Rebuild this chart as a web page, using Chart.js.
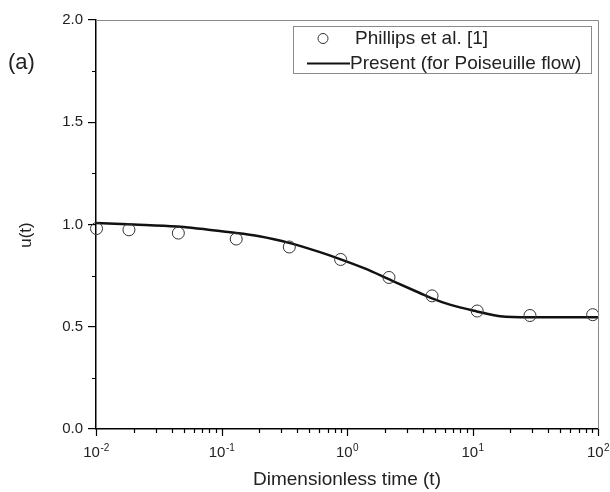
<!DOCTYPE html>
<html>
<head>
<meta charset="utf-8">
<script src="https://cdn.jsdelivr.net/npm/chart.js@4.4.1/dist/chart.umd.min.js"></script>
<style>
  html, body { margin: 0; padding: 0; background: #fff; }
  #wrap { width: 610px; height: 492px; }
</style>
</head>
<body>
<div id="wrap"><canvas id="chart-1"></canvas></div>
<script>
const FONT = '"Liberation Sans", Arial, sans-serif';

// Phillips et al. [1] (open circles)
const phillipsT = [0.0101, 0.0183, 0.0453, 0.131, 0.347, 0.89, 2.16, 4.76, 10.9, 28.7, 90.7];
const phillipsU = [0.980, 0.974, 0.958, 0.929, 0.890, 0.829, 0.741, 0.651, 0.577, 0.555, 0.559];

// Present (for Poiseuille flow) (solid line)
const presentT = [0.01, 0.02, 0.044, 0.117, 0.2, 0.352, 0.6, 0.88, 1.4, 2.2, 3.8, 4.7, 6.6, 10.8, 16.6, 28.6, 50, 100];
const presentU = [1.007, 1.0, 0.990, 0.962, 0.943, 0.909, 0.866, 0.831, 0.784, 0.730, 0.665, 0.640, 0.608, 0.575, 0.551, 0.546, 0.546, 0.546];

// axis ticks
const xDecades = [0.01, 0.1, 1, 10, 100];
const xExponents = ["-2", "-1", "0", "1", "2"];
const yMajor = [0, 0.5, 1.0, 1.5, 2.0];
const yMinor = [0.25, 0.75, 1.25, 1.75];

const ctx_1 = document.getElementById("chart-1");

const decor = {
  id: "decor",
  afterDraw(chart) {
    const c = chart.ctx;
    const a = chart.chartArea;
    const xs = chart.scales.x;
    const ys = chart.scales.y;
    c.save();

    // top and right frame
    c.strokeStyle = "#8a8a8a";
    c.lineWidth = 1;
    c.beginPath();
    c.moveTo(a.left, a.top + 0.5);
    c.lineTo(a.right + 0.5, a.top + 0.5);
    c.lineTo(a.right + 0.5, a.bottom);
    c.stroke();

    // x ticks
    c.strokeStyle = "#000";
    c.lineWidth = 1.2;
    c.beginPath();
    xDecades.forEach((d, i) => {
      const px = Math.round(xs.getPixelForValue(d)) + 0.5;
      c.moveTo(px, a.bottom);
      c.lineTo(px, a.bottom + 7);
      if (i < xDecades.length - 1) {
        for (let k = 2; k <= 9; k++) {
          const mx = Math.round(xs.getPixelForValue(d * k)) + 0.5;
          c.moveTo(mx, a.bottom);
          c.lineTo(mx, a.bottom + 4);
        }
      }
    });
    // y minor ticks
    yMinor.forEach((v) => {
      const py = Math.round(ys.getPixelForValue(v)) + 0.5;
      c.moveTo(a.left, py);
      c.lineTo(a.left - 4, py);
    });
    c.stroke();

    // x tick labels 10^n
    c.fillStyle = "#222";
    c.textBaseline = "alphabetic";
    xDecades.forEach((d, i) => {
      const px = xs.getPixelForValue(d);
      c.font = "15px " + FONT;
      const wb = c.measureText("10").width;
      c.font = "10px " + FONT;
      const ws = c.measureText(xExponents[i]).width;
      const x0 = px - (wb + ws) / 2;
      c.font = "15px " + FONT;
      c.textAlign = "left";
      c.fillText("10", x0, 457);
      c.font = "10px " + FONT;
      c.fillText(xExponents[i], x0 + wb + 0.5, 451);
    });

    // y axis title
    c.save();
    c.translate(26, 235);
    c.rotate(-Math.PI / 2);
    c.font = "17px " + FONT;
    c.textAlign = "center";
    c.textBaseline = "middle";
    c.fillText("u(t)", 0, 0);
    c.restore();

    // panel tag
    c.font = "22px " + FONT;
    c.textAlign = "left";
    c.textBaseline = "middle";
    c.fillText("(a)", 8, 63);

    // legend
    c.strokeStyle = "#8a8a8a";
    c.lineWidth = 1;
    c.fillStyle = "#fff";
    c.fillRect(293.5, 26.5, 298, 47);
    c.strokeRect(293.5, 26.5, 298, 47);
    c.strokeStyle = "#333";
    c.lineWidth = 1;
    c.beginPath();
    c.arc(323, 38.5, 5, 0, Math.PI * 2);
    c.stroke();
    c.strokeStyle = "#111";
    c.lineWidth = 2;
    c.beginPath();
    c.moveTo(307, 63.5);
    c.lineTo(350, 63.5);
    c.stroke();
    c.fillStyle = "#222";
    c.font = "19px " + FONT;
    c.textBaseline = "middle";
    c.fillText(chart.data.datasets[0].label, 355, 38.5);
    c.fillText(chart.data.datasets[1].label, 350, 63.5);

    c.restore();
  },
};

new Chart(ctx_1, {
  type: "scatter",
  data: {
    datasets: [
      {
        label: "Phillips et al. [1]",
        data: phillipsT.map((t, i) => ({ x: t, y: phillipsU[i] })),
        showLine: false,
        pointStyle: "circle",
        pointRadius: 6,
        pointBorderWidth: 1,
        pointBorderColor: "#333",
        pointBackgroundColor: "rgba(0,0,0,0)",
        order: 0,
      },
      {
        label: "Present (for Poiseuille flow)",
        data: presentT.map((t, i) => ({ x: t, y: presentU[i] })),
        showLine: true,
        borderColor: "#111",
        borderWidth: 2.5,
        pointRadius: 0,
        cubicInterpolationMode: "monotone",
        order: 1,
      },
    ],
  },
  options: {
    responsive: true,
    maintainAspectRatio: false,
    animation: false,
    clip: false,
    layout: {
      padding: { top: 20, right: 12, left: 0, bottom: 0 },
    },
    scales: {
      x: {
        type: "logarithmic",
        min: 0.01,
        max: 100,
        grid: { display: false },
        border: { display: true, color: "#000", width: 1.5 },
        ticks: { display: false },
        title: {
          display: true,
          text: "Dimensionless time (t)",
          color: "#222",
          font: { family: FONT, size: 19 },
          padding: { top: 0, bottom: 1 },
        },
        afterFit(scale) {
          scale.height = 63;
        },
      },
      y: {
        min: 0,
        max: 2,
        grid: {
          display: true,
          drawOnChartArea: false,
          drawTicks: true,
          tickLength: 8,
          color: "#000",
          lineWidth: 1.2,
        },
        border: { display: true, color: "#000", width: 1.5 },
        ticks: {
          stepSize: 0.5,
          padding: 5,
          color: "#222",
          font: { family: FONT, size: 15 },
          callback: (v) => (yMajor.includes(v) ? v.toFixed(1) : ""),
        },
        afterFit(scale) {
          scale.width = 96;
        },
      },
    },
    plugins: {
      legend: { display: false },
      tooltip: { enabled: false },
    },
  },
  plugins: [decor],
});
</script>
</body>
</html>
